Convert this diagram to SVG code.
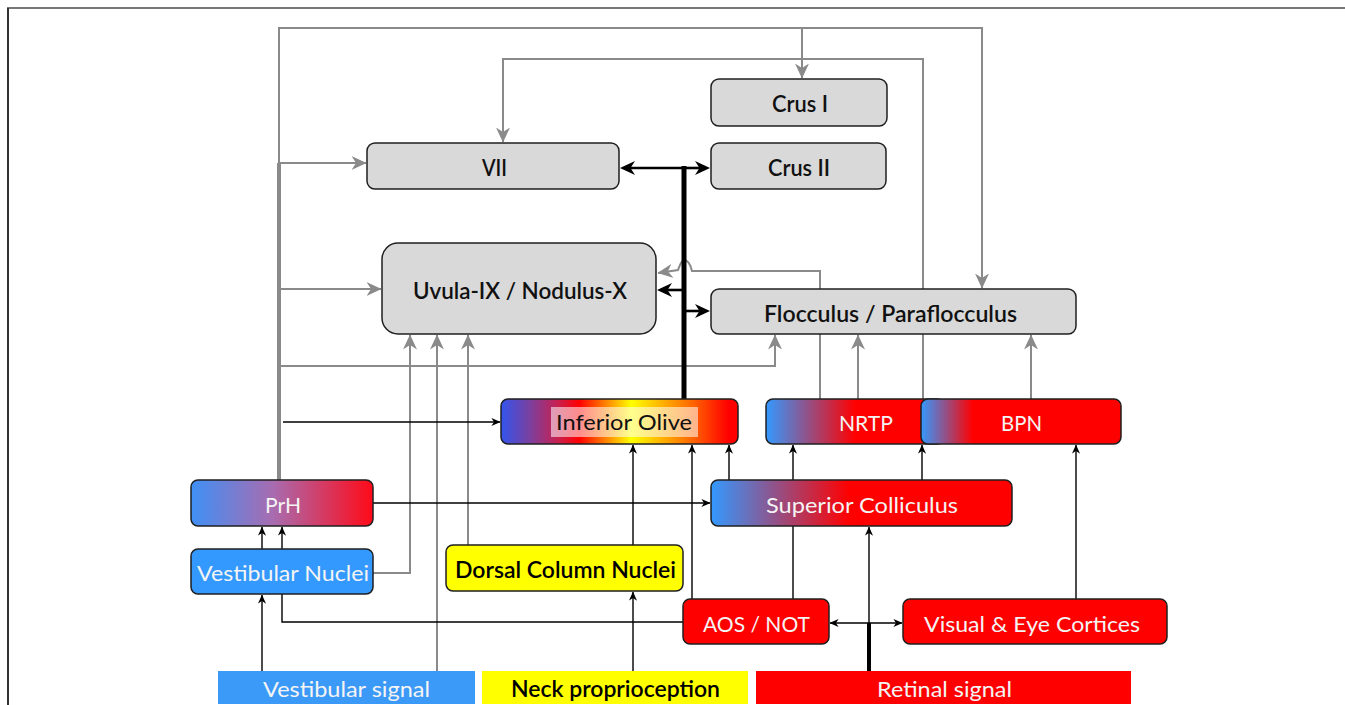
<svg xmlns="http://www.w3.org/2000/svg" width="1345" height="705" viewBox="0 0 1345 705">
<style>
.gl{fill:none;stroke:#8a8a8a;stroke-width:2}
.gt{fill:none;stroke:#8a8a8a;stroke-width:4}
.bl{fill:none;stroke:#000;stroke-width:1.4}
.bk{fill:none;stroke:#000;stroke-width:5}
.bm{fill:none;stroke:#000;stroke-width:2.6}
.ga{marker-end:url(#ag)}
.ba{marker-end:url(#ab)}
.box{stroke:#1f1f1f;stroke-width:1.5}
.grey{fill:#d9d9d9}
text{font-family:Lato,"Liberation Sans",sans-serif;font-size:22px;text-anchor:middle}
.dk{fill:#111;font-weight:600}
.wt{fill:#f4f4f4}
.bt{fill:#000;font-weight:600}
</style>
<defs>
<marker id="ag" viewBox="0 0 15 15" refX="14.5" refY="7.5" markerWidth="15" markerHeight="15" markerUnits="userSpaceOnUse" orient="auto"><path d="M0,0.5 L15,7.5 L0,14.5 L4.5,7.5 z" fill="#8a8a8a"/></marker>
<marker id="ab" viewBox="0 0 10 10" refX="9.6" refY="5" markerWidth="9" markerHeight="9" markerUnits="userSpaceOnUse" orient="auto-start-reverse"><path d="M0,0.5 L10,5 L0,9.5 L3,5 z" fill="#000"/></marker>
<marker id="akb" viewBox="0 0 15 15" refX="10" refY="7.5" markerWidth="15" markerHeight="15" markerUnits="userSpaceOnUse" orient="auto"><path d="M0,0.5 L15,7.5 L0,14.5 L4.5,7.5 z" fill="#000"/></marker>
<linearGradient id="gPrH" x1="0" y1="0" x2="1" y2="0"><stop offset="0" stop-color="#3f90f5"/><stop offset="0.45" stop-color="#a86cb0"/><stop offset="1" stop-color="#ff0a18"/></linearGradient>
<linearGradient id="gIO" x1="0" y1="0" x2="1" y2="0"><stop offset="0" stop-color="#3355ee"/><stop offset="0.12" stop-color="#7a40a0"/><stop offset="0.24" stop-color="#c82050"/><stop offset="0.33" stop-color="#ff0000"/><stop offset="0.55" stop-color="#ffff00"/><stop offset="0.8" stop-color="#ff6a00"/><stop offset="0.96" stop-color="#ff0000"/></linearGradient>
<linearGradient id="gSC" x1="0" y1="0" x2="1" y2="0"><stop offset="0" stop-color="#3399ff"/><stop offset="0.46" stop-color="#ff0000"/><stop offset="1" stop-color="#ff0000"/></linearGradient>
<linearGradient id="gNR" x1="0" y1="0" x2="1" y2="0"><stop offset="0" stop-color="#3399ff"/><stop offset="0.5" stop-color="#ff0000"/><stop offset="1" stop-color="#ff0000"/></linearGradient>
<linearGradient id="gBP" x1="0" y1="0" x2="1" y2="0"><stop offset="0" stop-color="#3399ff"/><stop offset="0.26" stop-color="#ff0000"/><stop offset="1" stop-color="#ff0000"/></linearGradient>
</defs>
<rect width="1345" height="705" fill="#fff"/>
<g id="frame">
<line x1="7" y1="8" x2="1345" y2="8" stroke="#777" stroke-width="2"/>
<line x1="8" y1="8" x2="8" y2="705" stroke="#333" stroke-width="2"/>
</g>
<g id="connectors">
<path class="gl ga" d="M279,480 V28 H982 V288"/>
<path class="gt" d="M279,480 V163"/>
<path class="gl ga" d="M802,28 V78"/>
<path class="gl ga" d="M923,399 V59 H503 V142"/>
<path class="gl ga" d="M820,399 V271 H692 C690,263 687,260 684,260 C681,261 680,265 678,270 L658,273"/>
<path class="gl ga" d="M858,399 V335"/>
<path class="gl ga" d="M1031,399 V335"/>
<path class="gl ga" d="M279,366 H775 V335"/>
<path class="gl ga" d="M279,163 H366"/>
<path class="gl ga" d="M279,289 H381"/>
<path class="gl ga" d="M373,573 H410 V335"/>
<path class="gl ga" d="M437,671 V335"/>
<path class="gl ga" d="M468,545 V335"/>
<path class="bl ba" d="M283,422 H500"/>
<path class="bl ba" d="M373,503 H710"/>
<path class="bl ba" d="M262,549 V527"/>
<path class="bl ba" d="M282,549 V527"/>
<path class="bl ba" d="M262,671 V595"/>
<path class="bl" d="M282,594 V622 H683"/>
<path class="bl ba" d="M633,671 V592"/>
<path class="bl ba" d="M633,545 V445"/>
<path class="bl ba" d="M692,599 V445"/>
<path class="bl ba" d="M729,480 V445"/>
<path class="bl ba" d="M793,480 V445"/>
<path class="bl ba" d="M922,480 V445"/>
<path class="bl ba" d="M1076,599 V445"/>
<path class="bl" d="M793,526 V599"/>
<path class="bl ba" d="M869,623 V527"/>
<path class="bl" style="marker-start:url(#ab);marker-end:url(#ab)" d="M830,623 H902"/>
<path class="bl" style="stroke-width:4" d="M869,671 V623"/>
<path class="bk" d="M684,399 V166"/>
<path class="bm" style="marker-end:url(#akb)" d="M684,168 H625"/>
<path class="bm" style="marker-end:url(#akb)" d="M684,168 H705"/>
<path class="bm" style="marker-end:url(#akb)" d="M684,290 H662"/>
<path class="bm" style="marker-end:url(#akb)" d="M684,311 H705"/>
</g>
<g id="crus1"><rect class="box grey" x="711" y="79" width="176" height="47" rx="8"/><text class="dk" x="800" y="112" textLength="56" lengthAdjust="spacingAndGlyphs">Crus I</text></g>
<g id="crus2"><rect class="box grey" x="711" y="143" width="175" height="46" rx="8"/><text class="dk" x="799" y="176" textLength="62" lengthAdjust="spacingAndGlyphs">Crus II</text></g>
<g id="vii"><rect class="box grey" x="367" y="143" width="252" height="46" rx="8"/><text class="dk" x="494.5" y="176" textLength="25" lengthAdjust="spacingAndGlyphs">VII</text></g>
<g id="uvula"><rect class="box grey" x="382" y="243" width="274" height="91" rx="16"/><text class="dk" x="520" y="299" textLength="214" lengthAdjust="spacingAndGlyphs">Uvula-IX / Nodulus-X</text></g>
<g id="flocculus"><rect class="box grey" x="711" y="289" width="365" height="45" rx="8"/><text class="dk" x="890.5" y="322" textLength="253" lengthAdjust="spacingAndGlyphs">Flocculus / Paraflocculus</text></g>
<g id="inferior-olive"><rect class="box" fill="url(#gIO)" x="501" y="399" width="237" height="45" rx="7"/><rect x="551" y="407" width="147" height="30" fill="#fff" fill-opacity="0.55"/><text x="624" y="430" fill="#111" textLength="136" lengthAdjust="spacingAndGlyphs">Inferior Olive</text></g>
<g id="nrtp"><rect class="box" fill="url(#gNR)" x="766" y="399" width="178" height="45" rx="7"/><text class="wt" x="866" y="431" textLength="54" lengthAdjust="spacingAndGlyphs">NRTP</text></g>
<g id="bpn"><rect class="box" fill="url(#gBP)" x="921" y="399" width="200" height="45" rx="7"/><text class="wt" x="1021.5" y="431" textLength="41" lengthAdjust="spacingAndGlyphs">BPN</text></g>
<g id="prh"><rect class="box" fill="url(#gPrH)" x="191" y="480" width="182" height="46" rx="7"/><text class="wt" x="283" y="513" textLength="36" lengthAdjust="spacingAndGlyphs">PrH</text></g>
<g id="vestibular-nuclei"><rect class="box" fill="#3399ff" x="191" y="549" width="182" height="45" rx="7"/><text class="wt" x="283" y="581" textLength="172" lengthAdjust="spacingAndGlyphs">Vestibular Nuclei</text></g>
<g id="dorsal-column-nuclei"><rect class="box" fill="#ffff00" x="446" y="545" width="237" height="46" rx="7"/><text class="bt" x="565.5" y="578" textLength="221" lengthAdjust="spacingAndGlyphs">Dorsal Column Nuclei</text></g>
<g id="superior-colliculus"><rect class="box" fill="url(#gSC)" x="711" y="480" width="301" height="46" rx="7"/><text class="wt" x="862" y="513" textLength="192" lengthAdjust="spacingAndGlyphs">Superior Colliculus</text></g>
<g id="aos-not"><rect class="box" fill="#ff0000" x="683" y="599" width="146" height="45" rx="7"/><text class="wt" x="756.5" y="632" textLength="107" lengthAdjust="spacingAndGlyphs">AOS / NOT</text></g>
<g id="visual-cortices"><rect class="box" fill="#ff0000" x="903" y="599" width="264" height="45" rx="7"/><text class="wt" x="1032" y="632" textLength="216" lengthAdjust="spacingAndGlyphs">Visual &amp; Eye Cortices</text></g>
<g id="vestibular-signal"><rect fill="#3b99f7" x="218" y="671" width="257" height="33"/><text class="wt" x="346.5" y="697" textLength="167" lengthAdjust="spacingAndGlyphs">Vestibular signal</text></g>
<g id="neck-proprioception"><rect fill="#ffff00" x="482" y="671" width="266" height="33"/><text class="bt" x="615.5" y="697" textLength="209" lengthAdjust="spacingAndGlyphs">Neck proprioception</text></g>
<g id="retinal-signal"><rect fill="#ff0000" x="756" y="671" width="375" height="33"/><text class="wt" x="944.5" y="697" textLength="135" lengthAdjust="spacingAndGlyphs">Retinal signal</text></g>
</svg>
